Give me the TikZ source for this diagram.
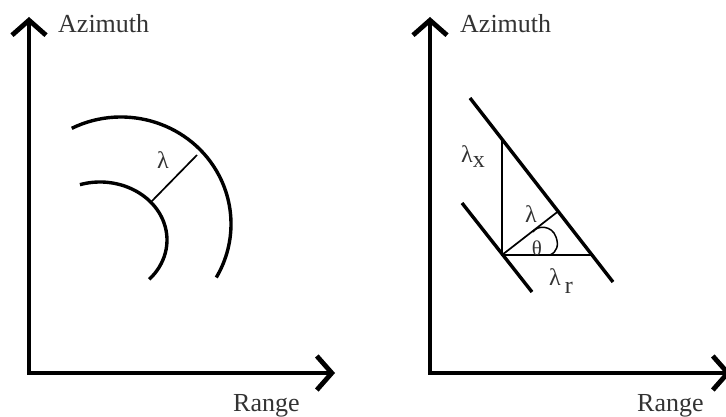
\documentclass[tikz,border=0pt]{standalone}
\usepackage{fontspec}
\setmainfont{Liberation Serif}
\usetikzlibrary{arrows.meta,calc}
\definecolor{labelgray}{HTML}{333333}
\begin{document}
\begin{tikzpicture}[x=1pt,y=1pt,
  axis/.style={line width=4.8pt,{Straight Barb[length=15pt,width=34pt]}-{Straight Barb[length=15pt,width=34pt]}},
  wave/.style={line width=3.4pt},
  guide/.style={line width=1.7pt},
  axlabel/.style={font=\fontsize{26}{30}\selectfont, text=labelgray, inner sep=0pt, anchor=base west},
  greek/.style={font=\fontsize{24}{28}\selectfont, text=labelgray, inner sep=0pt, anchor=base west}]
\useasboundingbox (0,0) rectangle (726,416);
\clip (0,0) rectangle (726,416);

% ---------- left panel ----------
\coordinate (ltop) at (29,399);
\coordinate (lorig) at (29,43);
\coordinate (lright) at (335,43);
\draw[axis] (ltop) -- (lorig) -- (lright);
\node[axlabel] (lazim) at (58,383) {Azimuth};
\node[axlabel] (lrange) at (233,5) {Range};

\draw[wave] (121,192) ++(116.6:110 and 107) arc[start angle=116.6, end angle=-30, x radius=110, y radius=107];
\draw[wave] (100,176) ++(107.4:67 and 58) arc[start angle=107.4, end angle=-42.8, x radius=67, y radius=58];
\coordinate (lin) at (152,215);
\coordinate (lout) at (197,261);
\draw[guide] (lin) -- (lout);
\node[greek] (llam) at (157,248) {λ};

% ---------- right panel ----------
\coordinate (rtop) at (430,399);
\coordinate (rorig) at (430,43);
\coordinate (rright) at (731,43);
\draw[axis] (rtop) -- (rorig) -- (rright);
\node[axlabel] (razim) at (460,383) {Azimuth};
\node[axlabel] (rrange) at (637,5) {Range};

\coordinate (oa) at (470,318);
\coordinate (ob) at (613,134);
\coordinate (ia) at (462,213);
\coordinate (ib) at (532,124);
\draw[wave] (oa) -- (ob);
\draw[wave] (ia) -- (ib);

\coordinate (v) at (502,161);
\coordinate (vup) at (502,350);
\coordinate (vrt) at (700,161);
\coordinate (vx) at (intersection of v--vup and oa--ob);
\coordinate (vr) at (intersection of v--vrt and oa--ob);
\coordinate (foot) at ($(oa)!(v)!(ob)$);
\draw[guide] (vx) -- (v) -- (vr);
\draw[guide] (v) -- (foot);
\draw[guide, line width=1.5pt] (533,184) .. controls (537,191) and (552,191) .. (556,179) .. controls (559,171) and (557,164) .. (550,161);

\node[greek] (lamx) at (461,254) {λ\raisebox{-5pt}{x}};
\node[greek] (lam) at (525,194) {λ};
\node[greek] (lamr) at (549,131) {λ\hspace{4pt}\raisebox{-8pt}{r}};
\node[greek, font=\fontsize{21}{25}\selectfont, anchor=base] (theta) at (537,161) {θ};
\end{tikzpicture}
\end{document}
